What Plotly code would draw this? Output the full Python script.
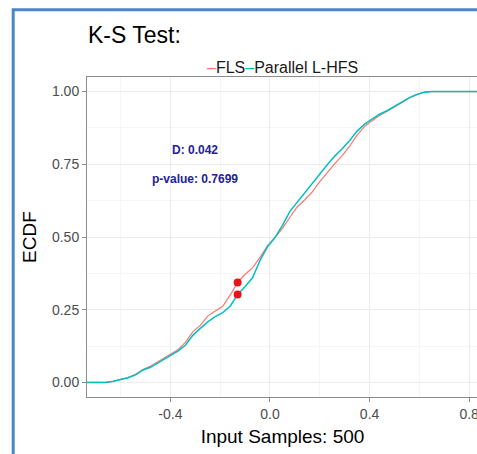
"""K-S test ECDF comparison: FLS vs Parallel L-HFS."""

import plotly.graph_objects as go

# ECDF curves (x = input sample value, y = cumulative fraction)
fls_x = [-0.74, -0.66, -0.63, -0.60, -0.57, -0.54, -0.51, -0.48, -0.45, -0.42, -0.40,
         -0.37, -0.34, -0.31, -0.28, -0.25, -0.22, -0.19, -0.16, -0.13, -0.10, -0.07,
         -0.04, -0.01, 0.02, 0.05, 0.08, 0.11, 0.14, 0.17, 0.20, 0.23, 0.26, 0.29,
         0.32, 0.35, 0.38, 0.41, 0.44, 0.47, 0.50, 0.53, 0.56, 0.59, 0.62, 0.65, 0.84]
fls_y = [0.0, 0.0, 0.004, 0.010, 0.017, 0.028, 0.044, 0.056, 0.072, 0.088, 0.098,
         0.112, 0.138, 0.174, 0.196, 0.228, 0.246, 0.262, 0.300, 0.344, 0.372, 0.394,
         0.430, 0.470, 0.498, 0.530, 0.568, 0.604, 0.628, 0.655, 0.690, 0.722, 0.752,
         0.780, 0.812, 0.850, 0.880, 0.900, 0.918, 0.932, 0.946, 0.962, 0.978, 0.990,
         0.998, 1.0, 1.0]

hfs_x = [-0.74, -0.66, -0.63, -0.60, -0.57, -0.54, -0.51, -0.48, -0.45, -0.42, -0.40,
         -0.37, -0.34, -0.31, -0.28, -0.25, -0.22, -0.19, -0.16, -0.13, -0.10, -0.07,
         -0.04, -0.01, 0.02, 0.05, 0.08, 0.11, 0.14, 0.17, 0.20, 0.23, 0.26, 0.29,
         0.32, 0.35, 0.38, 0.41, 0.44, 0.47, 0.50, 0.53, 0.56, 0.59, 0.62, 0.65, 0.84]
hfs_y = [0.0, 0.0, 0.004, 0.010, 0.016, 0.026, 0.043, 0.052, 0.068, 0.084, 0.094,
         0.108, 0.128, 0.162, 0.186, 0.208, 0.226, 0.240, 0.262, 0.302, 0.330, 0.360,
         0.420, 0.466, 0.498, 0.540, 0.588, 0.620, 0.652, 0.688, 0.716, 0.748, 0.778,
         0.803, 0.832, 0.864, 0.888, 0.904, 0.922, 0.934, 0.950, 0.964, 0.979, 0.990,
         0.998, 1.0, 1.0]

# Location of the maximum distance D
d_x = [-0.13, -0.13]
d_y = [0.344, 0.302]

stat_labels = ["D: 0.042", "p-value: 0.7699"]
stat_x = [-0.30, -0.30]
stat_y = [0.80, 0.70]

x_tickvals = [-0.4, 0.0, 0.4, 0.8]
x_ticktext = ["-0.4", "0.0", "0.4", "0.8"]
y_tickvals = [0.0, 0.25, 0.5, 0.75, 1.0]
y_ticktext = ["0.00", "0.25", "0.50", "0.75", "1.00"]

RED = "#F8766D"
TEAL = "#00BFC4"
FONT = "Liberation Sans, Arial, sans-serif"

# The original picture is cropped on the right, so the figure is a little wider
# than the window and the overflow is hidden.
W, H = 490, 454
ML, MR, MT, MB = 87, 11, 77, 53
plot_w = W - ML - MR
plot_h = H - MT - MB


def px_to_paper(px, py):
    return (px - ML) / plot_w, 1 + (MT - py) / plot_h


fig = go.Figure()
fig.add_trace(go.Scatter(x=fls_x, y=fls_y, mode="lines", name="FLS",
                         line=dict(color=RED, width=1.2)))
fig.add_trace(go.Scatter(x=hfs_x, y=hfs_y, mode="lines", name="Parallel L-HFS",
                         line=dict(color=TEAL, width=1.5)))
fig.add_trace(go.Scatter(x=d_x, y=d_y, mode="markers", showlegend=False,
                         marker=dict(color="#e8141b", size=8)))

for label, ax_, ay_ in zip(stat_labels, stat_x, stat_y):
    fig.add_annotation(x=ax_, y=ay_, text=f"<b>{label}</b>", showarrow=False,
                       font=dict(family=FONT, size=12, color="#22229a"))

# legend drawn as text so the key lines stay short like the original
lx, ly = px_to_paper(283, 57)
fig.add_annotation(
    xref="paper", yref="paper", x=lx, y=ly, showarrow=False,
    text=(f"<span style='color:{RED}'>–</span>FLS"
          f"<span style='color:{TEAL}'>–</span>Parallel L-HFS"),
    font=dict(family=FONT, size=16, color="#1a1a1a"),
)

# blue frame around the picture (top and left edges visible)
fx0, fy0 = px_to_paper(13, 9)
_, fy1 = px_to_paper(13, H + 5)
fx1, _ = px_to_paper(W + 5, 9)
fig.add_shape(type="path", xref="paper", yref="paper",
              path=f"M {fx0} {fy1} L {fx0} {fy0} L {fx1} {fy0}",
              line=dict(color="#4a86c8", width=3))

axis_common = dict(
    showline=True, linecolor="#8c8c8c", linewidth=1, mirror=True,
    ticks="outside", ticklen=4, tickcolor="#8c8c8c",
    showgrid=True, gridcolor="#ebebeb", gridwidth=1,
    zeroline=False,
    tickfont=dict(family=FONT, size=14, color="#4d4d4d"),
)

fig.update_xaxes(
    range=[-0.735, 0.8355], tickvals=x_tickvals, ticktext=x_ticktext,
    minor=dict(dtick=0.2, tick0=0, showgrid=True, gridcolor="#f5f5f5", gridwidth=0.5),
    title=dict(text="Input Samples: 500", font=dict(family=FONT, size=19, color="#000"),
               standoff=8),
    **axis_common,
)
fig.update_yaxes(
    range=[-0.05, 1.05], tickvals=y_tickvals, ticktext=y_ticktext,
    minor=dict(dtick=0.125, tick0=0, showgrid=True, gridcolor="#f5f5f5", gridwidth=0.5),
    title=dict(text="ECDF", font=dict(family=FONT, size=19, color="#000"), standoff=10),
    **axis_common,
)

fig.update_layout(
    width=W, height=H,
    margin=dict(l=ML, r=MR, t=MT, b=MB),
    paper_bgcolor="white", plot_bgcolor="white",
    showlegend=False,
    title=dict(text="K-S Test:", x=88 / W, xanchor="left", y=1 - 35 / H, yanchor="middle",
               font=dict(family=FONT, size=23, color="#000")),
    font=dict(family=FONT),
)

# drop the default page margin so the figure sits flush with the window
fig.write_html("out.html",
               config={"displayModeBar": False},
               post_script="document.body.style.margin='0';document.body.style.overflow='hidden';")
